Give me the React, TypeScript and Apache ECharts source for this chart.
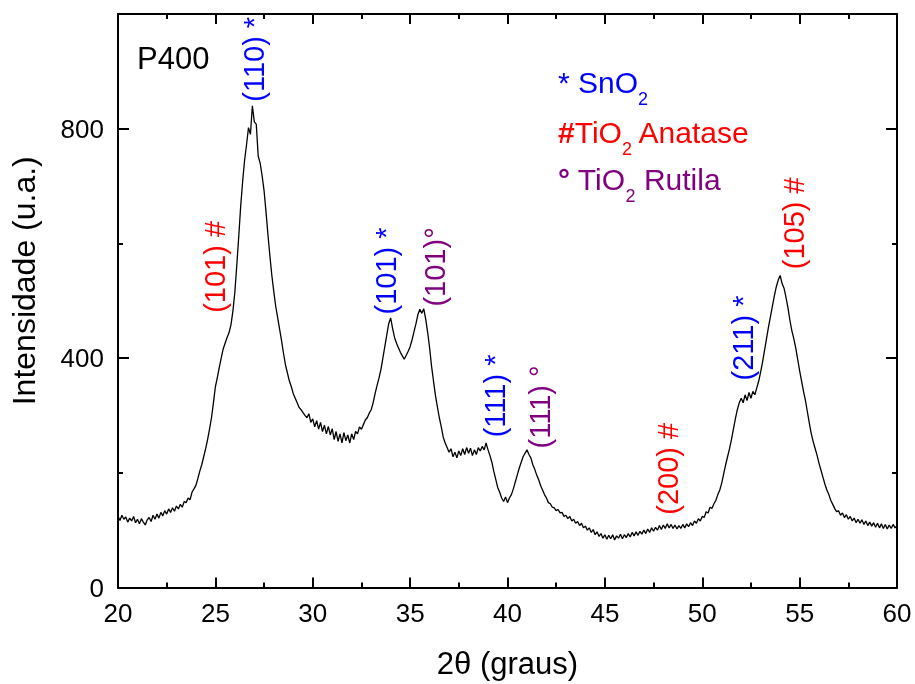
import { useEffect, useRef } from "react";
import * as echarts from "echarts";

// XRD scan of sample P400: detector counts on a uniform 2θ grid
const startAngle = 20;
const stepSize = 0.1;
const counts = [
  124, 117, 126, 119, 123, 114, 121, 116, 124, 113,
  119, 111, 120, 114, 109, 118, 122, 115, 126, 119,
  128, 121, 131, 125, 134, 128, 137, 131, 139, 133,
  142, 137, 145, 140, 150, 148, 156, 153, 166, 172,
  178, 190, 203, 214, 228, 242, 258, 276, 296, 322,
  350, 366, 384, 400, 416, 426, 436, 444, 458, 482,
  515, 562, 612, 665, 708, 745, 772, 802, 790, 840,
  812, 808, 752, 740, 718, 692, 655, 615, 578, 544,
  516, 490, 470, 450, 430, 408, 388, 374, 360, 350,
  338, 330, 322, 314, 310, 305, 300, 296, 303, 288,
  294, 280, 291, 276, 288, 272, 283, 268, 281, 266,
  277, 258, 272, 255, 268, 252, 270, 256, 266, 252,
  268, 258, 272, 268, 280, 276, 284, 292, 296, 304,
  310, 322, 338, 352, 365, 380, 400, 420, 440, 460,
  470, 452, 436, 426, 418, 410, 404, 398, 405, 412,
  420, 432, 446, 460, 476, 485, 478, 486, 468, 445,
  418, 386, 360, 335, 315, 296, 280, 262, 252, 244,
  236, 242, 228, 236, 226, 238, 230, 242, 232, 244,
  234, 243, 230, 240, 232, 244, 238, 246, 240, 252,
  240, 230, 218, 202, 188, 174, 166, 156, 150, 158,
  148, 156, 162, 172, 184, 196, 208, 218, 228, 234,
  240, 232, 226, 214, 206, 196, 188, 178, 170, 162,
  156, 148, 146, 140, 139, 134, 136, 130, 131, 124,
  126, 120, 124, 116, 119, 112, 115, 108, 112, 104,
  107, 100, 104, 96, 101, 92, 97, 89, 94, 86,
  92, 84, 91, 85, 92, 83, 90, 86, 93, 85,
  92, 87, 94, 88, 96, 90, 97, 91, 98, 93,
  100, 94, 102, 96, 104, 98, 105, 100, 108, 101,
  109, 103, 111, 104, 110, 103, 109, 102, 108, 103,
  110, 104, 111, 106, 113, 108, 116, 112, 120, 116,
  124, 122, 132, 130, 140, 138, 146, 152, 162, 170,
  182, 198, 214, 228, 242, 258, 276, 294, 310, 322,
  330, 322, 336, 326, 340, 330, 342, 336, 348, 360,
  376, 394, 414, 434, 454, 472, 490, 508, 524, 536,
  544, 530, 522, 506, 488, 466, 448, 434, 418, 398,
  378, 360, 342, 326, 306, 286, 268, 254, 242, 230,
  216, 204, 192, 180, 170, 162, 152, 145, 138, 132,
  134, 126, 130, 122, 127, 119, 124, 116, 121, 113,
  119, 112, 118, 110, 116, 108, 114, 107, 113, 105,
  112, 104, 111, 103, 110, 102, 109, 103, 110, 104,
  108,
];

// Reflection annotations: Miller indices, phase, and where each tag sits (2θ, intensity)
const peakLabels = ["(110) *", "(101) #", "(101) *", "(101)°", "(111) *", "(111) °", "(200) #", "(211) *", "(105) #"];
const peakPhases = ["sno2", "anatase", "sno2", "rutile", "sno2", "rutile", "anatase", "sno2", "anatase"];
const peakAngles = [26.96, 24.96, 33.74, 36.3, 39.38, 41.69, 48.26, 52.11, 54.73];
const peakTagHeights = [921, 559, 552, 559, 334, 315, 207, 435, 635];

const sampleName = "P400";
const xTitle = "2θ (graus)";
const yTitle = "Intensidade (u.a.)";

const FONT = "'Liberation Sans', Arial, Helvetica, sans-serif";
const phaseColors: Record<string, string> = {
  sno2: "#0000ff",
  anatase: "#ff0000",
  rutile: "#800080",
};

export default function App() {
  const ref = useRef<HTMLDivElement>(null);

  useEffect(() => {
    if (!ref.current) return;
    const chart = echarts.init(ref.current, null, { renderer: "svg" });

    const scan = counts.map((c, i) => [Math.round((startAngle + i * stepSize) * 10) / 10, c]);
    const peakData = peakLabels.map((t, i) => ({
      name: t,
      value: [peakAngles[i], peakTagHeights[i]],
      itemStyle: { color: phaseColors[peakPhases[i]], opacity: 1 },
      label: { color: phaseColors[peakPhases[i]] },
    }));

    const black = { color: "#000", width: 2 };
    const xCommon = {
      type: "value",
      min: 20,
      max: 60,
      interval: 5,
      axisLine: { show: true, onZero: false, lineStyle: black },
      axisTick: { show: true, inside: true, length: 10, lineStyle: black },
      minorTick: { show: true, splitNumber: 2, length: 5, lineStyle: black },
      splitLine: { show: false },
      minorSplitLine: { show: false },
    };
    const yMajor = {
      type: "value",
      min: 0,
      max: 1000,
      interval: 400,
      axisLine: { show: true, onZero: false, lineStyle: black },
      axisTick: { show: true, inside: true, length: 11, lineStyle: black },
      splitLine: { show: false },
    };
    const yMinor = {
      type: "value",
      min: 0,
      max: 1000,
      interval: 200,
      axisLine: { show: false },
      axisTick: { show: true, inside: true, length: 5, lineStyle: black },
      axisLabel: { show: false },
      splitLine: { show: false },
    };
    const legendRich = {
      m: { fontSize: 30, fontFamily: FONT },
      b: { fontSize: 30, fontFamily: FONT, fontWeight: 700 },
      s: { fontSize: 18, fontFamily: FONT, padding: [34, 0, 0, 0] },
    };

    chart.setOption({
      animation: false,
      grid: { left: 117, right: 18, top: 14, bottom: 96 },
      xAxis: [
        {
          ...xCommon,
          position: "bottom",
          axisLabel: { color: "#000", fontSize: 26, fontFamily: FONT, margin: 12 },
          name: xTitle,
          nameLocation: "middle",
          nameGap: 76,
          nameTextStyle: { color: "#000", fontSize: 31, fontFamily: FONT, verticalAlign: "middle" },
        },
        { ...xCommon, position: "top", axisLabel: { show: false } },
      ],
      yAxis: [
        {
          ...yMajor,
          position: "left",
          axisLabel: { color: "#000", fontSize: 26, fontFamily: FONT, margin: 14, showMaxLabel: false },
          name: yTitle,
          nameLocation: "middle",
          nameRotate: 90,
          nameGap: 94,
          nameTextStyle: {
            color: "#000",
            fontSize: 32,
            fontFamily: FONT,
            verticalAlign: "middle",
            align: "center",
            padding: [0, 0, 0, 40],
          },
        },
        { ...yMinor, position: "left" },
        { ...yMajor, position: "right", axisLabel: { show: false } },
        { ...yMinor, position: "right" },
      ],
      series: [
        {
          type: "line",
          name: sampleName,
          xAxisIndex: 0,
          yAxisIndex: 0,
          data: scan,
          showSymbol: false,
          symbol: "none",
          lineStyle: { color: "#000", width: 1.3 },
          silent: true,
        },
        {
          type: "scatter",
          name: "reflexões",
          xAxisIndex: 0,
          yAxisIndex: 0,
          data: peakData,
          symbolSize: 0,
          silent: true,
          itemStyle: { opacity: 1 },
          label: {
            show: true,
            formatter: "{b}",
            position: "inside",
            rotate: 90,
            align: "center",
            verticalAlign: "middle",
            fontSize: 29,
            fontFamily: FONT,
            textBorderWidth: 0,
            opacity: 1,
          },
        },
      ],
      graphic: [
        {
          type: "text",
          x: 137,
          y: 58,
          style: {
            text: sampleName,
            fill: "#000",
            fontSize: 31,
            fontFamily: FONT,
            align: "left",
            verticalAlign: "middle",
            textAlign: "left",
            textVerticalAlign: "middle",
          },
        },
        {
          type: "text",
          x: 558,
          y: 82,
          style: {
            text: "{m|* SnO}{s|2}",
            rich: legendRich,
            fill: phaseColors.sno2,
            align: "left",
            verticalAlign: "middle",
            textAlign: "left",
            textVerticalAlign: "middle",
          },
        },
        {
          type: "text",
          x: 558,
          y: 132,
          style: {
            text: "{b|#}{m|TiO}{s|2}{m| Anatase}",
            rich: legendRich,
            fill: phaseColors.anatase,
            align: "left",
            verticalAlign: "middle",
            textAlign: "left",
            textVerticalAlign: "middle",
          },
        },
        {
          type: "text",
          x: 558,
          y: 179,
          style: {
            text: "{b|°}{m| TiO}{s|2}{m| Rutila}",
            rich: legendRich,
            fill: phaseColors.rutile,
            align: "left",
            verticalAlign: "middle",
            textAlign: "left",
            textVerticalAlign: "middle",
          },
        },
      ],
    });

    return () => chart.dispose();
  }, []);

  return <div ref={ref} style={{ position: "fixed", left: 0, top: 0, width: 915, height: 684 }} />;
}
